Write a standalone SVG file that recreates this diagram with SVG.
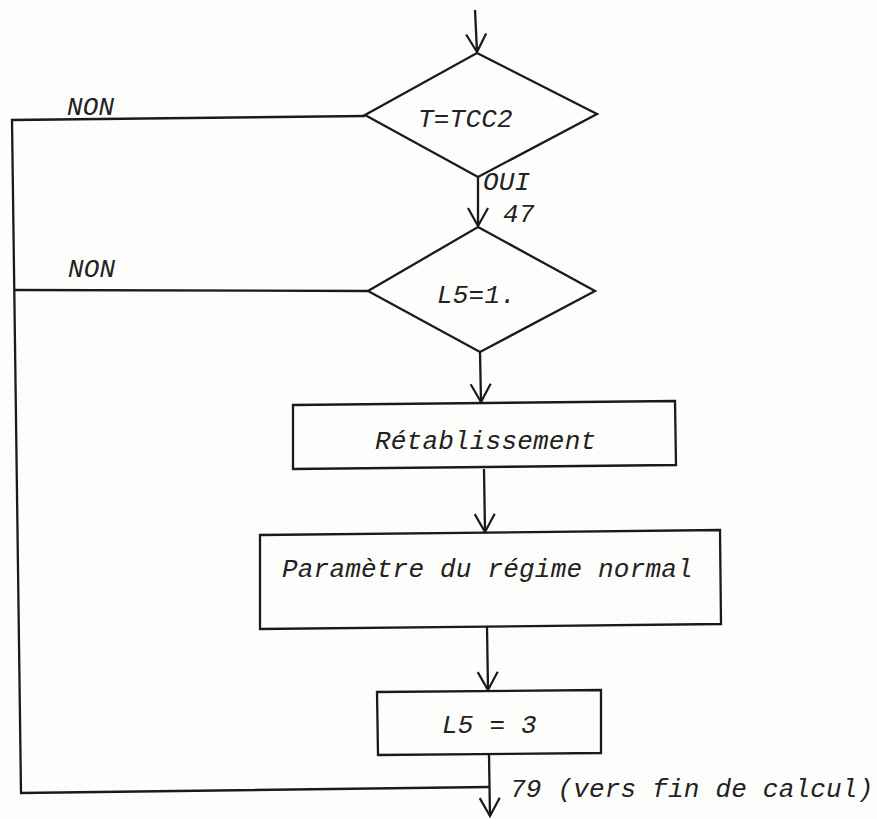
<svg xmlns="http://www.w3.org/2000/svg" width="877" height="819" viewBox="0 0 877 819">
<defs>
<marker id="v" markerUnits="userSpaceOnUse" markerWidth="24" markerHeight="26" viewBox="-21 -13 24 26" refX="0" refY="0" orient="auto">
<path d="M-18,-10 L0,0 L-18,10" fill="none" stroke="#1a1a1a" stroke-width="2.2"/>
</marker>
<style>
.s{fill:none;stroke:#1a1a1a;stroke-width:2.3;stroke-linejoin:miter}
.c{fill:none;stroke:#1a1a1a;stroke-width:2.3}
.a{fill:none;stroke:#1a1a1a;stroke-width:2.3;marker-end:url(#v)}
.t{font-family:"Liberation Mono","Courier New",monospace;font-style:italic;font-size:26px;letter-spacing:0.2px;fill:#222}
</style>
</defs>
<rect width="877" height="819" fill="#fdfdfb"/>
<g id="connectors">
<line class="a" x1="475" y1="10" x2="477" y2="52"/>
<line class="a" x1="478" y1="177" x2="478" y2="226"/>
<line class="a" x1="480" y1="352" x2="481" y2="402"/>
<line class="a" x1="484" y1="469" x2="485" y2="532"/>
<line class="a" x1="487" y1="627" x2="488" y2="690"/>
<line class="a" x1="489" y1="755" x2="490" y2="816"/>
<path class="c" d="M365,116 L12,120 L21,793 L489,787"/>
<line class="c" x1="14" y1="290" x2="368" y2="291"/>
<text class="t" x="67" y="115">NON</text>
<text class="t" x="68" y="277">NON</text>
<text class="t" x="483" y="190">OUI</text>
<text class="t" x="503" y="222">47</text>
<text class="t" x="510" y="797">79 (vers fin de calcul)</text>
</g>
<g id="d1">
<polygon class="s" points="477,53 597,114 478,177 365,115"/>
<text class="t" x="418" y="127">T=TCC2</text>
</g>
<g id="d2">
<polygon class="s" points="478,227 595,291 480,352 368,291"/>
<text class="t" x="437" y="303">L5=1.</text>
</g>
<g id="b1">
<polygon class="s" points="293,405 675,401 676,465 293,469"/>
<text class="t" x="375" y="449">Rétablissement</text>
</g>
<g id="b2">
<polygon class="s" points="260,535 720,530 721,624 260,629"/>
<text class="t" x="282" y="577">Paramètre du régime normal</text>
</g>
<g id="b3">
<polygon class="s" points="377,692 601,690 601,753 378,755"/>
<text class="t" x="442" y="733">L5 = 3</text>
</g>
</svg>
